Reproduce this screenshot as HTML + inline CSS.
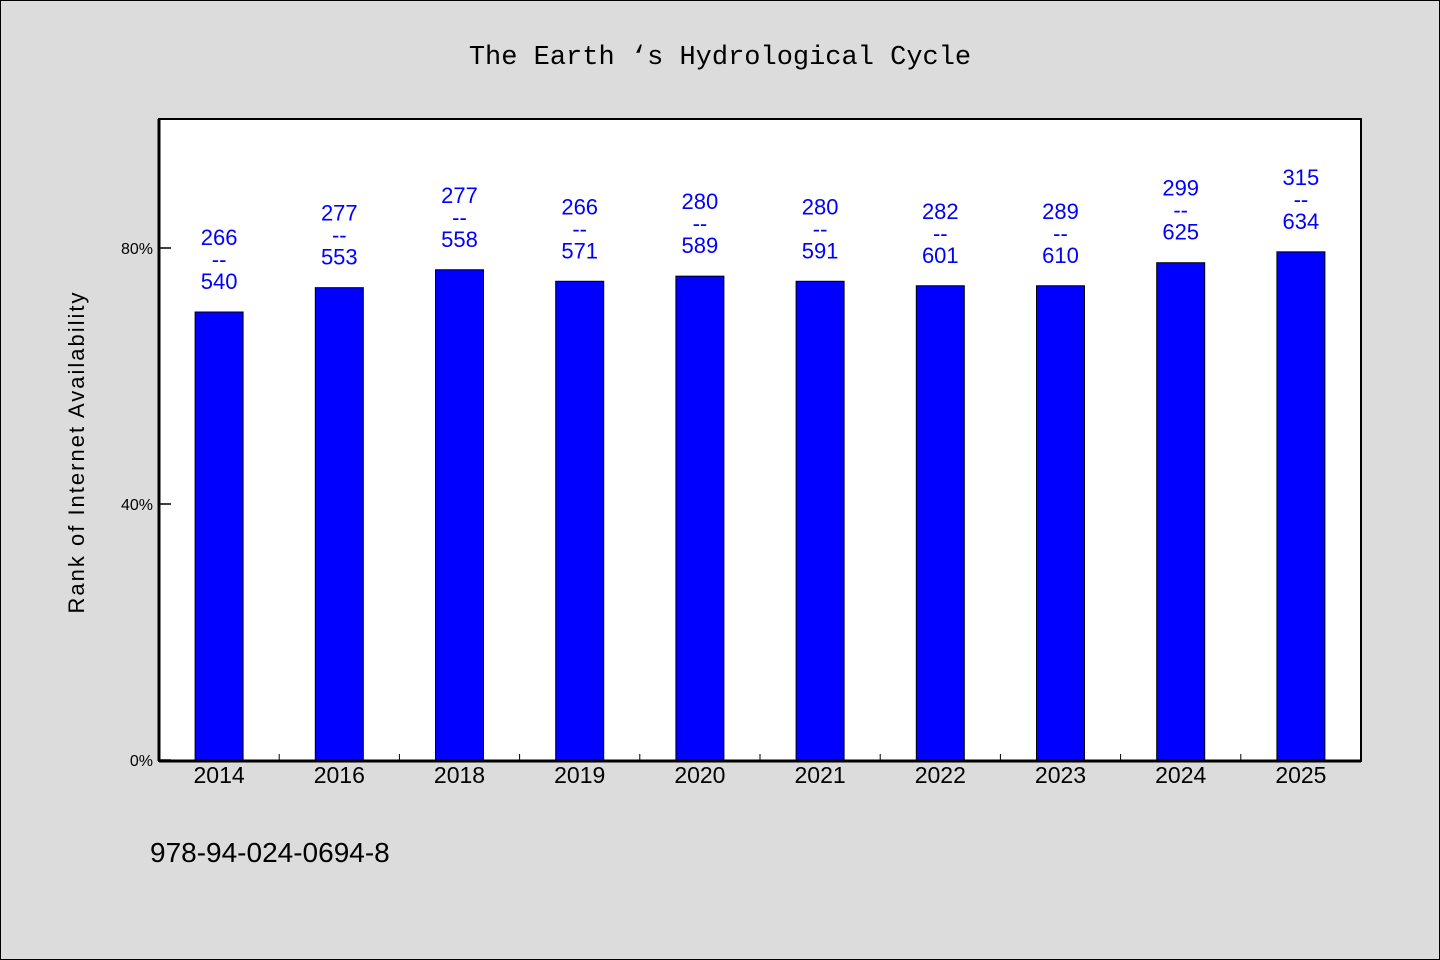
<!DOCTYPE html>
<html><head><meta charset="utf-8"><style>
body{margin:0;background:#dcdcdc;}
svg{display:block;font-family:"WenQuanYi Zen Hei","Liberation Sans",sans-serif;}
</style></head><body>
<svg width="1440" height="960" viewBox="0 0 1440 960">
<rect x="0.5" y="0.5" width="1439" height="959" fill="#dcdcdc" stroke="#000"/>
<text x="720" y="64" text-anchor="middle" font-size="27" font-family="WenQuanYi Zen Hei, Liberation Mono, monospace">The Earth ‘s Hydrological Cycle</text>
<rect x="159" y="119" width="1202" height="642" fill="#fff" stroke="#000" stroke-width="2"/>
<text transform="translate(84,452) rotate(-90)" text-anchor="middle" font-size="22" letter-spacing="2">Rank of Internet Availability</text>
<text x="150" y="862" font-size="28">978-94-024-0694-8</text>
<g id="g"></g>
</svg>
<script>
const categories=["2014","2016","2018","2019","2020","2021","2022","2023","2024","2025"];
const values=[70,73.8,76.6,74.8,75.6,74.8,74.1,74.1,77.7,79.4];
const topLabels=["266","277","277","266","280","280","282","289","299","315"];
const bottomLabels=["540","553","558","571","589","591","601","610","625","634"];
const yTicks=[0,40,80];
const X0=159,X1=1361,Y0=760,PX=6.4;
const band=(X1-X0)/categories.length;
const xc=i=>X0+band*(i+0.5);
const y=v=>Y0-v*PX;
const g=document.getElementById('g');
const NS='http://www.w3.org/2000/svg';
function mk(t,a){const e=document.createElementNS(NS,t);for(const k in a)e.setAttribute(k,a[k]);g.appendChild(e);return e;}
yTicks.forEach(v=>{
 const l=mk('line',{x1:X0,x2:X0+12,y1:y(v),y2:y(v),stroke:'#000','stroke-width':1.5});
 
 
 const t=mk('text',{x:X0-6,y:y(v)+6,'text-anchor':'end','font-size':16});
 t.textContent=v+'%';
 
 
});
categories.forEach((c,i)=>{
 if(i>0){const l=mk('line',{x1:X0+band*i,x2:X0+band*i,y1:Y0,y2:Y0-6,stroke:'#000'});
 
 }
 const top=y(values[i]);
 const b=mk('rect',{x:xc(i)-24,y:top,width:48,height:Y0-top,fill:'#0000ff',stroke:'#000','stroke-width':1});
 
 
 const xl=mk('text',{x:xc(i),y:Y0+23,'text-anchor':'middle','font-size':23});
 xl.textContent=c;
 
 
 [[topLabels[i],-67],['--',-45],[bottomLabels[i],-23]].forEach(([s,d])=>{
  const t=mk('text',{x:xc(i),y:top+d,'text-anchor':'middle','font-size':22,fill:'#0000ff'});
  t.textContent=s;
  
  
 });
});
const ax=mk('line',{x1:X0,x2:X0,y1:119,y2:761,stroke:'#000','stroke-width':3});


const bx=mk('line',{x1:X0,x2:X1,y1:Y0+1,y2:Y0+1,stroke:'#000','stroke-width':3});


</script>
</body></html>
